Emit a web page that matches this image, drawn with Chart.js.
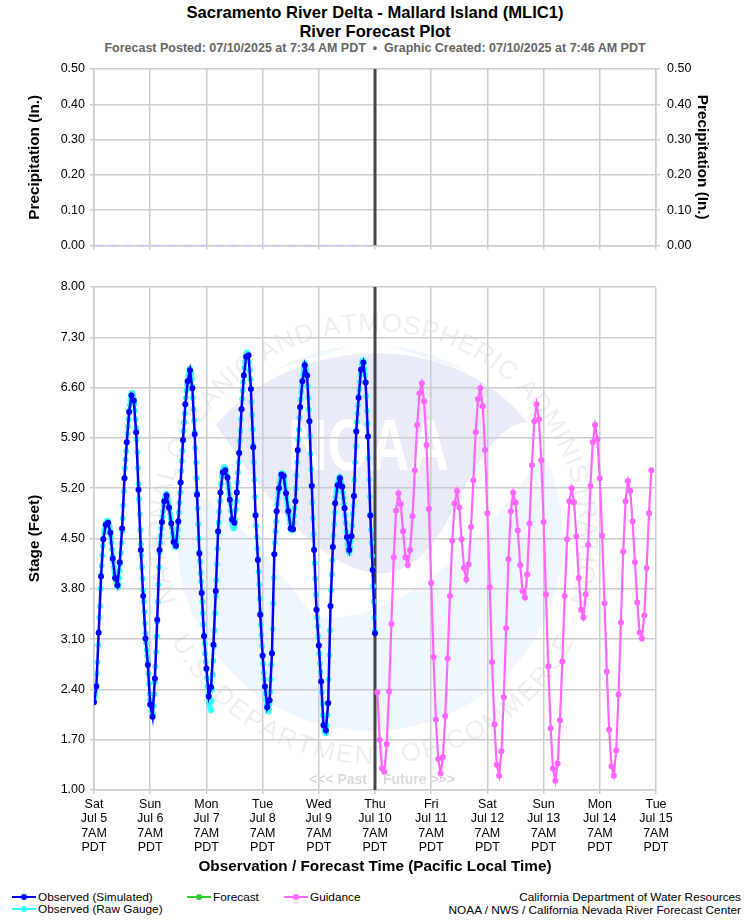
<!DOCTYPE html>
<html>
<head>
<meta charset="utf-8">
<title>River Forecast Plot</title>
<script src="https://cdn.jsdelivr.net/npm/chart.js@4"></script>
<style>
    html, body { margin: 0; padding: 0; background: #fff; }
    body { width: 750px; height: 920px; position: relative; overflow: hidden; font-family: "Liberation Sans", Arial, sans-serif; color: #000; }
    canvas { position: absolute; left: 0; }
    .txt { position: absolute; white-space: nowrap; }
    .centro { left: 0; width: 750px; text-align: center; }
    .titulo { font-size: 16.6px; font-weight: bold; line-height: 18px; }
    .sub { top: 40.5px; font-size: 12.5px; font-weight: bold; line-height: 15px; color: #666; }
    .marca { position: absolute; font-size: 14px; font-weight: bold; color: #d9d9d9; top: 771px; line-height: 16px; }
    .leg { font-size: 11.8px; line-height: 13px; }
    .pie { font-size: 11.8px; line-height: 13px; right: 9px; }
    .linea { position: absolute; width: 24px; height: 2.5px; }
    .punto { position: absolute; width: 6px; height: 6px; border-radius: 50%; }
</style>
</head>
<body>
<div class="txt centro titulo" style="top:4px">Sacramento River Delta - Mallard Island (MLIC1)</div>
<div class="txt centro titulo" style="top:23px">River Forecast Plot</div>
<div class="txt centro sub">Forecast Posted: 07/10/2025 at 7:34 AM PDT &nbsp;•&nbsp; Graphic Created: 07/10/2025 at 7:46 AM PDT</div>

<canvas id="graficoPrecip" width="750" height="260" style="top:0"></canvas>
<canvas id="graficoStage" width="750" height="616" style="top:260px"></canvas>

<div class="marca" style="left:309px">&lt;&lt;&lt; Past</div>
<div class="marca" style="left:383px">Future &gt;&gt;&gt;</div>

<div id="leyenda"></div>
<div class="txt pie" style="top:891px">California Department of Water Resources</div>
<div class="txt pie" style="top:904px">NOAA / NWS / California Nevada River Forecast Center</div>

<script>
// --- DATA ---
const weekDays = ["Sat", "Sun", "Mon", "Tue", "Wed", "Thu", "Fri", "Sat", "Sun", "Mon", "Tue"];
const dates = ["Jul 5", "Jul 6", "Jul 7", "Jul 8", "Jul 9", "Jul 10", "Jul 11", "Jul 12", "Jul 13", "Jul 14", "Jul 15"];
const nowHour = 120;

// hours since Sat Jul 5 7AM
const precipHours = [0, 24, 48, 72, 96, 120];
const precipValues = [0, 0, 0, 0, 0, 0];

// hourly, starts at hour 0
const observedSimulated = [
    2.22, 2.44, 3.19, 3.97, 4.49, 4.69, 4.72, 4.58, 4.22, 3.95, 3.85, 4.17,
    4.64, 5.34, 5.84, 6.26, 6.49, 6.42, 5.98, 5.18, 4.34, 3.70, 3.11, 2.74,
    2.19, 2.02, 2.55, 3.37, 4.34, 4.73, 5.02, 5.10, 4.93, 4.71, 4.45, 4.40,
    4.74, 5.28, 5.87, 6.37, 6.69, 6.84, 6.59, 5.95, 5.11, 4.29, 3.74, 3.14,
    2.69, 2.30, 2.43, 3.02, 3.77, 4.60, 5.14, 5.42, 5.45, 5.35, 5.04, 4.76,
    4.72, 5.14, 5.69, 6.30, 6.77, 7.03, 7.05, 6.58, 5.77, 4.82, 4.20, 3.44,
    2.87, 2.44, 2.15, 2.25, 2.90, 4.28, 4.88, 5.20, 5.39, 5.37, 5.13, 4.88,
    4.64, 4.63, 5.02, 5.73, 6.33, 6.69, 6.91, 6.77, 6.13, 5.23, 4.34, 3.51,
    3.01, 2.51, 1.90, 1.83, 2.21, 3.56, 4.38, 4.99, 5.24, 5.34, 5.22, 4.92,
    4.52, 4.34, 4.53, 5.09, 5.99, 6.46, 6.85, 6.95, 6.67, 5.92, 4.82, 4.06,
    3.18
];

// every 15 minutes, starts at hour 0
const observedRaw = [
    2.24, 2.29, 2.33, 2.38, 2.46, 2.62, 2.78, 3.02, 3.20, 3.40, 3.56, 3.80,
    3.99, 4.12, 4.27, 4.40, 4.50, 4.58, 4.63, 4.67, 4.70, 4.73, 4.74, 4.75,
    4.74, 4.72, 4.70, 4.66, 4.60, 4.52, 4.44, 4.35, 4.26, 4.18, 4.10, 4.03,
    3.98, 3.93, 3.89, 3.85, 3.83, 3.82, 3.86, 3.95, 4.05, 4.15, 4.30, 4.44,
    4.60, 4.78, 4.96, 5.16, 5.34, 5.48, 5.60, 5.72, 5.84, 5.96, 6.06, 6.16,
    6.28, 6.36, 6.43, 6.48, 6.52, 6.53, 6.52, 6.49, 6.45, 6.38, 6.28, 6.16,
    6.04, 5.88, 5.70, 5.48, 5.26, 5.05, 4.84, 4.62, 4.42, 4.26, 4.10, 3.94,
    3.78, 3.62, 3.48, 3.32, 3.18, 3.05, 2.95, 2.86, 2.78, 2.62, 2.48, 2.34,
    2.25, 2.17, 2.10, 2.06, 2.03, 2.06, 2.17, 2.33, 2.50, 2.72, 2.92, 3.14,
    3.34, 3.62, 3.86, 4.10, 4.30, 4.44, 4.54, 4.64, 4.72, 4.80, 4.88, 4.96,
    5.02, 5.07, 5.10, 5.12, 5.12, 5.09, 5.05, 5.00, 4.95, 4.90, 4.84, 4.78,
    4.72, 4.65, 4.58, 4.52, 4.46, 4.42, 4.39, 4.38, 4.38, 4.44, 4.52, 4.62,
    4.72, 4.86, 5.00, 5.14, 5.28, 5.44, 5.58, 5.72, 5.86, 6.00, 6.12, 6.24,
    6.36, 6.46, 6.56, 6.64, 6.70, 6.76, 6.81, 6.85, 6.87, 6.84, 6.80, 6.72,
    6.62, 6.46, 6.30, 6.14, 5.98, 5.76, 5.56, 5.34, 5.14, 4.92, 4.70, 4.50,
    4.32, 4.18, 4.02, 3.90, 3.76, 3.62, 3.46, 3.30, 3.16, 3.04, 2.90, 2.78,
    2.68, 2.56, 2.44, 2.34, 2.26, 2.20, 2.16, 2.13, 2.11, 2.24, 2.40, 2.60,
    2.80, 3.00, 3.22, 3.46, 3.70, 3.92, 4.14, 4.36, 4.58, 4.72, 4.88, 5.02,
    5.14, 5.26, 5.36, 5.42, 5.44, 5.47, 5.49, 5.49, 5.49, 5.46, 5.42, 5.38,
    5.33, 5.27, 5.20, 5.12, 5.05, 4.98, 4.88, 4.78, 4.72, 4.68, 4.65, 4.64,
    4.66, 4.76, 4.90, 5.02, 5.14, 5.28, 5.42, 5.56, 5.70, 5.86, 6.00, 6.16,
    6.30, 6.44, 6.56, 6.68, 6.78, 6.88, 6.96, 7.02, 7.06, 7.09, 7.08, 7.06,
    7.04, 6.96, 6.84, 6.72, 6.58, 6.40, 6.22, 6.02, 5.80, 5.56, 5.32, 5.08,
    4.84, 4.68, 4.52, 4.36, 4.22, 4.04, 3.86, 3.66, 3.46, 3.30, 3.16, 3.00,
    2.88, 2.76, 2.64, 2.54, 2.44, 2.34, 2.26, 2.18, 2.13, 2.10, 2.09, 2.12,
    2.20, 2.36, 2.54, 2.74, 2.92, 3.24, 3.60, 3.96, 4.28, 4.44, 4.60, 4.74,
    4.88, 4.98, 5.06, 5.14, 5.20, 5.27, 5.33, 5.37, 5.40, 5.41, 5.41, 5.40,
    5.38, 5.32, 5.26, 5.20, 5.14, 5.06, 5.00, 4.94, 4.88, 4.82, 4.76, 4.70,
    4.64, 4.62, 4.61, 4.62, 4.64, 4.72, 4.82, 4.92, 5.02, 5.20, 5.38, 5.56,
    5.72, 5.88, 6.02, 6.18, 6.32, 6.44, 6.54, 6.62, 6.70, 6.78, 6.85, 6.90,
    6.94, 6.90, 6.86, 6.82, 6.76, 6.62, 6.46, 6.30, 6.14, 5.92, 5.68, 5.46,
    5.24, 5.00, 4.78, 4.56, 4.36, 4.16, 3.94, 3.72, 3.52, 3.40, 3.28, 3.14,
    3.02, 2.90, 2.76, 2.64, 2.52, 2.36, 2.20, 2.04, 1.92, 1.86, 1.82, 1.80,
    1.79, 1.80, 1.90, 2.04, 2.20, 2.54, 2.88, 3.22, 3.56, 3.78, 4.00, 4.20,
    4.38, 4.54, 4.70, 4.86, 5.00, 5.08, 5.15, 5.20, 5.25, 5.30, 5.33, 5.35,
    5.36, 5.34, 5.30, 5.26, 5.22, 5.14, 5.06, 4.98, 4.92, 4.82, 4.72, 4.60,
    4.50, 4.42, 4.36, 4.32, 4.30, 4.32, 4.38, 4.46, 4.54, 4.68, 4.84, 4.96,
    5.10, 5.32, 5.56, 5.78, 6.00, 6.12, 6.24, 6.36, 6.48, 6.58, 6.68, 6.78,
    6.86, 6.92, 6.96, 6.98, 6.98, 6.94, 6.86, 6.78, 6.68, 6.48, 6.28, 6.10,
    5.92, 5.62, 5.32, 5.08, 4.84, 4.62, 4.44, 4.26, 4.08, 3.84, 3.62, 3.40,
    3.22
];

// hourly, starts at hour 121
const guidance = [
    2.36, 1.70, 1.30, 1.25, 1.64, 2.37, 3.31, 4.24, 4.89, 5.13, 4.98, 4.60,
    4.24, 4.13, 4.34, 4.81, 5.45, 6.08, 6.52, 6.66, 6.41, 5.80, 4.91, 3.88,
    2.85, 1.98, 1.43, 1.23, 1.46, 2.03, 2.83, 3.70, 4.47, 4.99, 5.16, 4.93,
    4.49, 4.09, 3.93, 4.14, 4.66, 5.31, 5.98, 6.44, 6.59, 6.34, 5.73, 4.85,
    3.82, 2.78, 1.91, 1.35, 1.20, 1.54, 2.29, 3.25, 4.21, 4.88, 5.14, 5.00,
    4.61, 4.13, 3.77, 3.68, 4.00, 4.71, 5.52, 6.13, 6.37, 6.16, 5.59, 4.73,
    3.72, 2.72, 1.86, 1.30, 1.13, 1.37, 1.97, 2.79, 3.70, 4.49, 5.02, 5.20,
    5.00, 4.53, 3.95, 3.51, 3.40, 3.72, 4.41, 5.23, 5.84, 6.08, 5.88, 5.34,
    4.54, 3.60, 2.65, 1.84, 1.33, 1.20, 1.55, 2.33, 3.33, 4.32, 5.02, 5.30,
    5.16, 4.74, 4.17, 3.61, 3.19, 3.11, 3.43, 4.09, 4.85, 5.45
];

// --- WATERMARK NOAA ---
function textoEnArco(ctx, texto, cx, cy, radio, angIni, angFin, abajo) {
    const anchos = [...texto].map(c => ctx.measureText(c).width);
    const total = anchos.reduce((a, b) => a + b, 0);
    const arco = Math.abs(angFin - angIni) * radio;
    const extra = (arco - total) / (texto.length - 1);
    let ang = angIni;
    const signo = abajo ? -1 : 1;
    [...texto].forEach((c, i) => {
        const medio = ang + signo * (anchos[i] / 2) / radio;
        ctx.save();
        ctx.translate(cx + Math.sin(medio) * radio, cy - Math.cos(medio) * radio);
        ctx.rotate(abajo ? medio + Math.PI : medio);
        ctx.textAlign = 'center';
        ctx.fillText(c, 0, 0);
        ctx.restore();
        ang += signo * (anchos[i] + extra) / radio;
    });
}

const watermarkNoaa = {
    id: 'watermarkNoaa',
    beforeDraw(chart) {
        const ctx = chart.ctx;
        const off = 260; // canvas top on the page
        ctx.save();
        ctx.translate(0, -off);

        // disco
        ctx.fillStyle = '#eff6fe';
        ctx.beginPath();
        ctx.arc(370, 538, 193, 0, Math.PI * 2);
        ctx.fill();

        // ola blanca
        ctx.fillStyle = '#ffffff';
        ctx.beginPath();
        ctx.moveTo(180, 487);
        ctx.bezierCurveTo(225, 500, 270, 560, 313, 615);
        ctx.bezierCurveTo(380, 630, 470, 565, 543, 453);
        ctx.lineTo(560, 400);
        ctx.lineTo(370, 340);
        ctx.lineTo(180, 400);
        ctx.closePath();
        ctx.fill();

        // cupula
        ctx.fillStyle = '#e9ebf8';
        ctx.beginPath();
        ctx.moveTo(216, 425);
        ctx.bezierCurveTo(290, 335, 450, 325, 527, 422);
        ctx.bezierCurveTo(490, 425, 465, 490, 445, 525);
        ctx.bezierCurveTo(425, 560, 400, 575, 377, 573);
        ctx.bezierCurveTo(320, 570, 260, 490, 216, 425);
        ctx.fill();

        // letras
        ctx.fillStyle = '#ffffff';
        ctx.save();
        ctx.translate(288, 470);
        ctx.scale(0.76, 1);
        ctx.font = 'bold 72px "Liberation Sans"';
        ctx.textAlign = 'left';
        ctx.fillText('NOAA', 0, 0);
        ctx.restore();

        // anillo de texto
        ctx.fillStyle = 'rgba(110,110,160,0.12)';
        ctx.font = '26px "Liberation Sans"';
        const g = Math.PI / 180;
        textoEnArco(ctx, 'NATIONAL OCEANIC AND ATMOSPHERIC ADMINISTRATION', 373, 538, 207, -108 * g, 108 * g, false);
        textoEnArco(ctx, 'U.S. DEPARTMENT OF COMMERCE', 373, 538, 226, 243 * g, 117 * g, true);
        ctx.restore();
    }
};

// --- COMMON OPTIONS ---
const colorGrid = '#cccccc';
const fuenteTick = { family: 'Liberation Sans', size: 12.5 };
const fuenteTitulo = { family: 'Liberation Sans', size: 15.3, weight: 'bold' };

function puntos(horas, valores) {
    return valores.map((v, i) => ({ x: horas(i), y: v }));
}

function lineaAhora(yMin, yMax) {
    return {
        data: [{ x: nowHour, y: yMin }, { x: nowHour, y: yMax }],
        borderColor: '#444444',
        borderWidth: 3,
        pointRadius: 0
    };
}

function ejeX(conEtiquetas) {
    return {
        type: 'linear',
        min: 0,
        max: 240,
        afterFit: s => { s.height = conEtiquetas ? 86 : 14; },
        afterBuildTicks: s => { s.ticks = dates.map((d, i) => ({ value: i * 24 })); },
        grid: { color: colorGrid, lineWidth: 1.5, tickLength: 4 },
        border: { color: colorGrid, width: 1.5 },
        ticks: {
            display: conEtiquetas,
            color: '#000',
            font: { family: 'Liberation Sans', size: 12.5, lineHeight: 1.14 },
            padding: 3.5,
            maxRotation: 0,
            autoSkip: false,
            callback: (v, i) => [weekDays[i], dates[i], '7AM', 'PDT']
        },
        title: conEtiquetas
            ? { display: true, text: 'Observation / Forecast Time (Pacific Local Time)', color: '#000', font: fuenteTitulo, padding: 0 }
            : { display: false }
    };
}

function ejeY(config) {
    const izquierda = config.posicion === 'left';
    return {
        type: 'linear',
        position: config.posicion,
        min: config.min,
        max: config.max,
        afterFit: s => { s.width = 94; },
        grid: { color: colorGrid, lineWidth: 1.5, tickLength: 4, drawOnChartArea: izquierda },
        border: { color: colorGrid, width: 1.5 },
        ticks: {
            color: '#000',
            font: fuenteTick,
            padding: izquierda ? 5 : 7,
            stepSize: config.paso,
            callback: config.etiqueta
        },
        title: { display: true, text: config.titulo, color: '#000', font: fuenteTitulo, padding: { top: izquierda ? 26 : 39, bottom: 0 } }
    };
}

// --- PRECIPITATION ---
const etiquetaPrecip = v => Math.round(v * 100) % 10 === 0 ? v.toFixed(2) : '';

new Chart(document.getElementById('graficoPrecip'), {
    type: 'line',
    data: {
        datasets: [
            {
                data: puntos(i => precipHours[i], precipValues),
                borderColor: '#c6c6f6',
                borderWidth: 1.5,
                borderDash: [8, 7],
                pointRadius: 0,
                clip: false
            },
            lineaAhora(0, 0.5)
        ]
    },
    options: {
        responsive: false,
        animation: false,
        layout: { padding: { top: 69, bottom: 0, left: 0, right: 0 } },
        plugins: { legend: { display: false }, tooltip: { enabled: false } },
        scales: {
            x: ejeX(false),
            y: ejeY({ posicion: 'left', min: 0, max: 0.5, paso: 0.05, etiqueta: etiquetaPrecip, titulo: 'Precipitation (In.)' }),
            y2: ejeY({ posicion: 'right', min: 0, max: 0.5, paso: 0.05, etiqueta: etiquetaPrecip, titulo: 'Precipitation (In.)' })
        }
    }
});

// --- STAGE ---
new Chart(document.getElementById('graficoStage'), {
    type: 'line',
    plugins: [watermarkNoaa],
    data: {
        datasets: [
            {
                label: 'Observed (Simulated)',
                data: puntos(i => i, observedSimulated),
                borderColor: '#0000ff',
                backgroundColor: '#0000ff',
                borderWidth: 2.5,
                pointRadius: 3,
                pointBorderWidth: 0
            },
            {
                label: 'Guidance',
                data: puntos(i => 121 + i, guidance),
                borderColor: '#ff66ff',
                backgroundColor: '#ff66ff',
                borderWidth: 2.2,
                pointRadius: 3,
                pointBorderWidth: 0
            },
            {
                label: 'Observed (Raw Gauge)',
                data: puntos(i => i / 4, observedRaw),
                borderColor: '#33ffff',
                backgroundColor: '#33ffff',
                borderWidth: 0.8,
                pointRadius: 2.9,
                pointBorderWidth: 0
            },
            lineaAhora(1, 8)
        ]
    },
    options: {
        responsive: false,
        animation: false,
        layout: { padding: { top: 27, bottom: 0, left: 0, right: 94 } },
        plugins: { legend: { display: false }, tooltip: { enabled: false } },
        scales: {
            x: ejeX(true),
            y: ejeY({ posicion: 'left', min: 1, max: 8, paso: 0.7, etiqueta: v => v.toFixed(2), titulo: 'Stage (Feet)' })
        }
    }
});

// --- LEYENDA ---
const leyenda = [
    { texto: 'Observed (Simulated)', color: '#0000ff', x: 12, y: 897 },
    { texto: 'Observed (Raw Gauge)', color: '#33ffff', x: 12, y: 909 },
    { texto: 'Forecast', color: '#33cc33', x: 187, y: 897 },
    { texto: 'Guidance', color: '#ff66ff', x: 284, y: 897 }
];
document.getElementById('leyenda').innerHTML = leyenda.map(l => `
    <span class="linea" style="left:${l.x}px;top:${l.y - 1.25}px;background:${l.color}"></span>
    <span class="punto" style="left:${l.x + 9}px;top:${l.y - 3}px;background:${l.color}"></span>
    <span class="txt leg" style="left:${l.x + 26}px;top:${l.y - 6.5}px">${l.texto}</span>`).join('');
</script>
</body>
</html>
